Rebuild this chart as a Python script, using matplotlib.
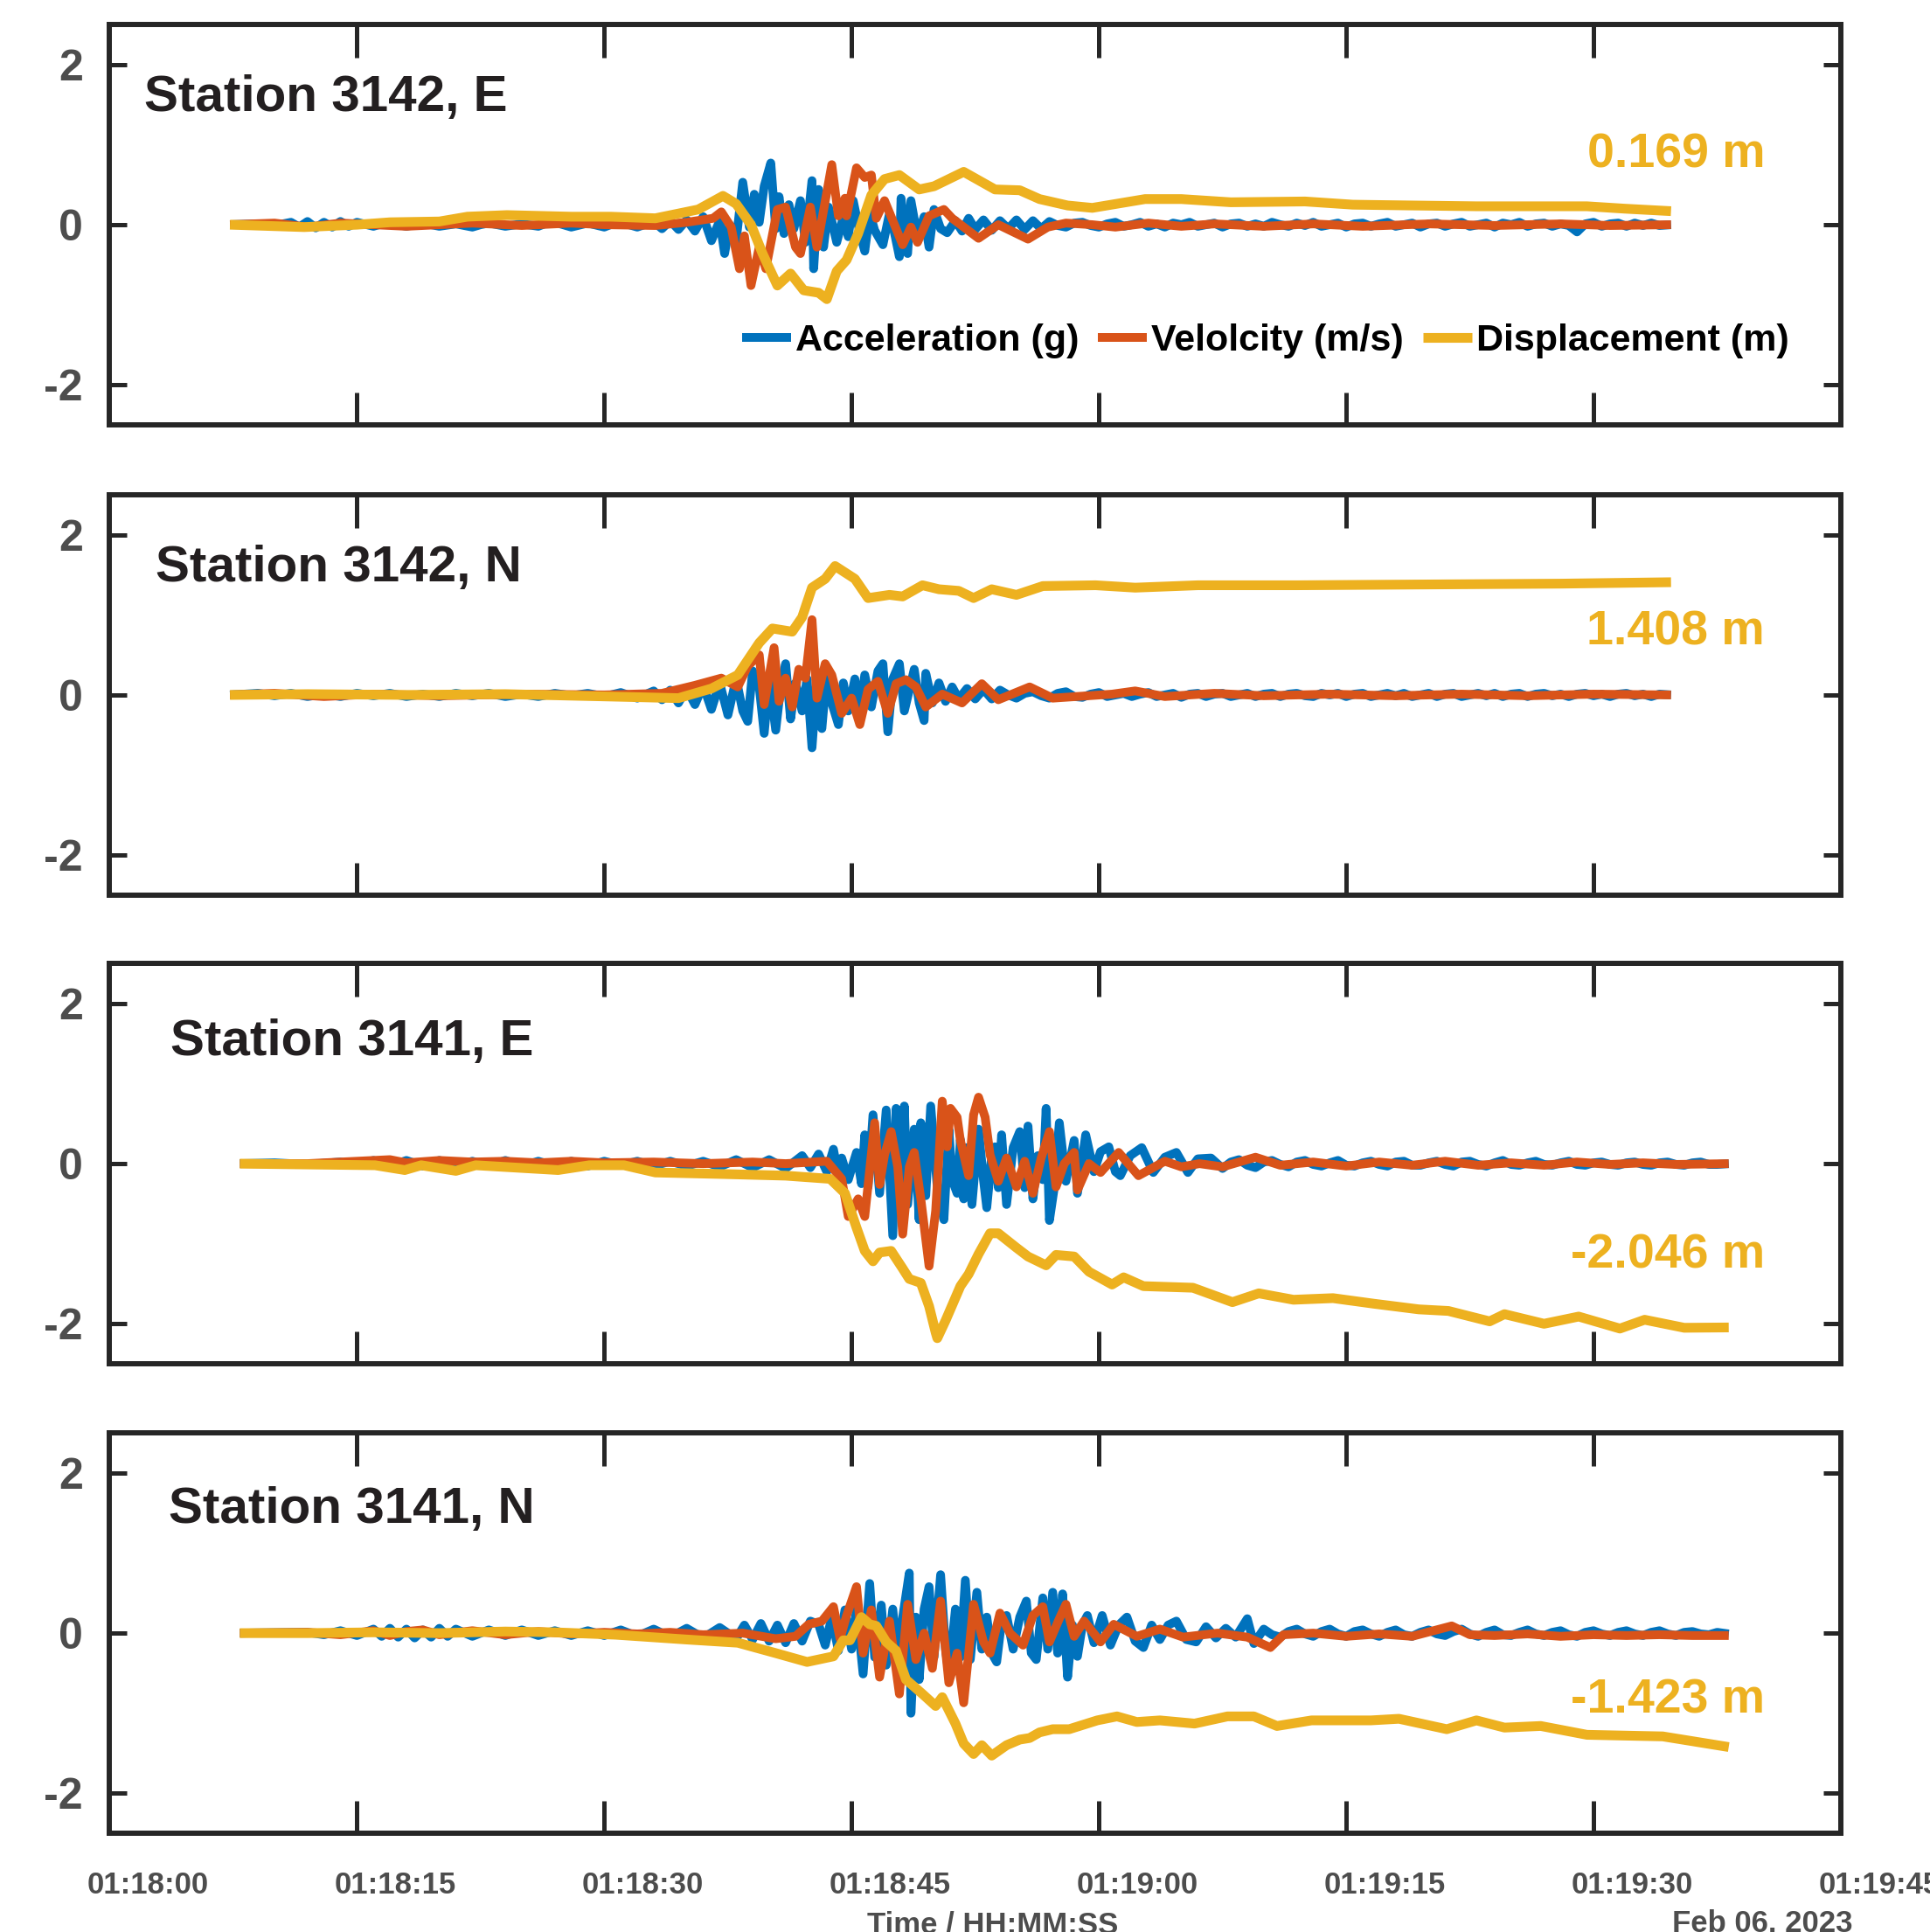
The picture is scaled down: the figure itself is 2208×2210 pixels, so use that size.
import numpy as np
import pandas as pd
import matplotlib
matplotlib.use('Agg')
import matplotlib.pyplot as plt
import matplotlib.dates as mdates
import matplotlib.transforms as mtransforms

plt.rcParams['font.family'] = ['Liberation Sans', 'DejaVu Sans']
plt.rcParams['font.weight'] = 'bold'

# (seconds after 01:18:00, value)
acc_3142e = [(7.3,0),(9,0.01),(10,-0.01),(11,0.03),(11.5,-0.03),(12,0.04),(12.5,-0.04),(13,0.03),(13.5,-0.03),(14,0.04),
             (14.5,-0.02),(15,0.03),(16,-0.02),(16.5,0.01),(17,0.02),(18,-0.02),(18.5,0.0),(19,0.02),(20,-0.02),(21,0.01),
             (22,-0.03),(22.5,0.0),(23,0.02),(24,-0.02),(25,0.01),(26,-0.02),(26.5,0.02),(27,0.03),(28,-0.03),(29,0.02),
             (30,-0.03),(30.5,0.01),(31,0.03),(32,-0.03),(33,0.04),
             (33.5,-0.05),(34,0.05),(34.5,-0.06),(35,0.06),(35.5,-0.08),(36,0.1),(36.5,-0.2),(37.0,0.05),(37.3,-0.36),
             (37.6,0.0),(38.0,-0.2),(38.4,0.53),(38.8,-0.03),(39.1,0.38),(39.4,0.03),(39.7,0.48),(40.1,0.77),(40.4,-0.05),
             (40.6,0.35),(40.9,-0.11),(41.2,0.25),(41.5,-0.05),(41.9,0.3),(42.2,-0.22),(42.6,0.55),(42.7,-0.55),(43.0,0.44),
             (43.3,-0.28),(43.6,0.22),(44.1,-0.22),(44.5,0.1),(44.8,-0.15),(45.1,0.3),(45.5,-0.1),(45.8,-0.33),(46.1,0.15),
             (46.4,-0.07),(46.9,-0.25),(47.3,0.14),(47.6,-0.1),(47.9,-0.4),(48.0,0.33),(48.4,-0.36),(48.6,0.3),(49.0,-0.16),
             (49.4,0.1),(49.7,-0.28),(50.0,0.19),(50.4,-0.05),(50.8,-0.1),(51.3,0.05),(51.7,-0.08),(52.1,0.08),(52.5,-0.06),
             (53,0.06),(53.5,-0.07),(54,0.05),(54.5,-0.05),(55,0.06),(55.5,-0.06),(56,0.05),(56.5,-0.05),(57,0.04),(57.5,-0.01),
             (58,-0.03),(58.5,0.02),(59,0.03),(59.5,-0.01),(60,-0.03),(60.5,0.01),(61,0.03),(61.5,-0.02),(62,0.0),
             (62.5,0.03),(63,-0.02),(63.5,0.01),(64,-0.03),(64.5,0.02),(65,0.0),(65.5,0.03),(66,-0.02),(66.5,0.0),
             (67,0.02),(67.5,-0.03),(68,0.01),(68.5,0.02),(69,-0.02),(69.5,0.01),(70,-0.02),(70.5,0.03),(71,0.0),
             (71.5,-0.02),(72,0.02),(72.5,-0.01),(73,0.03),(73.5,-0.02),(74,0.0),(74.5,0.02),(75,-0.03),(75.5,0.01),
             (76,0.02),(76.5,-0.02),(77,0.01),(77.5,0.03),(78,-0.02),(78.5,0.0),(79,0.02),(79.5,-0.03),(80,0.01),
             (80.5,0.02),(81,-0.02),(81.5,0.01),(82,0.03),(82.5,-0.02),(83,0.0),(83.5,0.02),(84,-0.03),(84.5,0.02),
             (85,0.0),(85.5,0.03),(86,-0.02),(86.5,0.01),(87,0.02),(87.5,-0.02),(88,0.01),(88.5,-0.01),(89,-0.09),
             (89.5,0.01),(90,0.03),(90.5,-0.02),(91,0.01),(91.5,0.02),(92,-0.02),(92.5,0.02),(93,-0.01),(93.5,0.02),
             (94,-0.01),(94.7,0)]
vel_3142e = [(7.3,0),(10,0.02),(12,-0.03),(14,0.02),(16,0.0),(18,-0.02),(20,0.0),(22,0.02),(25,-0.01),(28,0.02),
             (30,0.0),(33.1,-0.01),(35,0.03),(36.6,0.08),(37.1,0.16),(37.7,-0.03),(38.2,-0.55),(38.5,-0.14),(38.9,-0.76),
             (39.4,-0.28),(39.8,-0.55),(40.5,0.19),(41.0,0.22),(41.6,-0.28),(41.9,-0.36),(42.5,0.22),(42.9,-0.28),
             (43.8,0.75),(44.2,0.11),(44.6,0.33),(44.7,0.11),(45.3,0.71),(45.8,0.59),(46.2,0.62),(46.5,0.08),(47.0,0.3),
             (47.6,0.0),(48.1,-0.25),(48.6,-0.03),(49.0,-0.22),(49.7,0.11),(50.6,0.19),(51.1,0.08),(52.7,-0.17),
             (53.9,0.0),(55.7,-0.18),(56.9,-0.03),(58,0.02),(59.6,0),(61,-0.03),(63,0.02),(65,-0.02),(67,0.01),
             (70,-0.02),(73,0.01),(76,-0.02),(80,0.01),(84,-0.01),(88,0.01),(91,-0.01),(94.7,0)]
dis_3142e = [(7.3,0),(11.8,-0.03),(15,0.0),(17,0.03),(20,0.04),(21.7,0.1),(24.1,0.12),(28,0.1),(30.4,0.1),(33.1,0.08),
             (35.7,0.19),(37.2,0.36),(38.0,0.26),(38.9,0.0),(39.6,-0.36),(40.5,-0.76),(41.3,-0.61),(42.1,-0.82),
             (43.0,-0.85),(43.5,-0.93),(44.1,-0.58),(44.7,-0.44),(45.4,-0.11),(46.2,0.37),(47.0,0.57),(47.9,0.62),
             (49.1,0.44),(50.0,0.48),(51.8,0.66),(53.7,0.44),(55.2,0.43),(56.4,0.32),(58.1,0.24),(59.6,0.21),(62.8,0.32),
             (65.0,0.32),(68.0,0.28),(72.5,0.29),(75.4,0.25),(79,0.24),(82.9,0.23),(86,0.23),(89.6,0.23),(91.9,0.2),
             (94.7,0.169)]

acc_3142n = [(7.3,0),(9,0.02),(10,-0.01),(11,0.02),(12,-0.02),(13,0.01),(14,-0.02),(15,0.02),(16,-0.01),(17,0.02),
             (18,-0.02),(19,0.01),(20,-0.02),(21,0.02),(22,-0.01),(23,0.02),(24,-0.02),(25,0.01),(26,-0.02),(27,0.02),
             (28,-0.01),(29,0.02),(30,-0.02),(31,0.03),(32,-0.04),(33,0.05),(33.5,-0.06),(34,0.06),(34.5,-0.1),(35,0.08),
             (35.5,-0.12),(36,0.12),(36.5,-0.18),(37,0.15),(37.5,-0.25),(38,0.2),(38.4,-0.2),(38.7,-0.33),(39.0,0.3),
             (39.4,0.1),(39.7,-0.48),(40.0,0.2),(40.4,-0.44),(40.7,0.1),(41.0,0.39),(41.3,-0.3),(41.6,0.15),(42.0,-0.2),
             (42.3,0.2),(42.6,-0.66),(42.9,0.2),(43.2,-0.42),(43.5,0.3),(43.8,-0.1),(44.2,-0.37),(44.5,0.15),(44.8,-0.2),
             (45.2,0.2),(45.5,-0.25),(45.8,0.25),(46.2,-0.15),(46.6,0.3),(46.9,0.39),(47.2,-0.46),(47.5,0.2),(47.9,0.39),
             (48.2,-0.2),(48.8,0.32),(49.1,-0.1),(49.4,-0.32),(49.5,0.27),(49.9,-0.1),(50.3,0.15),(50.7,-0.08),(51.1,0.1),
             (51.5,-0.05),(52,0.08),(52.5,-0.05),(53,0.07),(53.5,-0.05),(54,0.06),(54.5,0.0),(55,-0.04),(55.5,0.02),
             (56,0.04),(56.5,-0.01),(57,-0.04),(57.5,0.02),(58,0.04),(58.5,-0.02),(59,-0.03),(59.5,0.01),(60,0.03),
             (60.5,-0.02),(61,0.0),(61.5,0.02),(62,-0.02),(62.5,0.01),(63,0.03),(63.5,-0.02),(64,0.0),(64.5,0.02),
             (65,-0.03),(65.5,0.01),(66,0.02),(66.5,-0.02),(67,0.01),(67.5,0.02),(68,-0.02),(68.5,0.0),(69,0.02),
             (69.5,-0.02),(70,0.01),(70.5,0.02),(71,-0.02),(71.5,0.01),(72,0.02),(72.5,-0.01),(73,-0.02),(73.5,0.02),
             (74,0.0),(74.5,0.02),(75,-0.02),(75.5,0.01),(76,0.02),(76.5,-0.02),(77,0.0),(77.5,0.02),(78,-0.01),
             (78.5,0.02),(79,-0.02),(79.5,0.0),(80,0.02),(80.5,-0.02),(81,0.01),(81.5,0.02),(82,-0.02),(82.5,0.0),
             (83,0.02),(83.5,-0.01),(84,0.02),(84.5,-0.02),(85,0.01),(85.5,0.02),(86,-0.02),(86.5,0.01),(87,0.02),
             (87.5,-0.01),(88,0.01),(88.5,-0.02),(89,0.01),(89.5,0.02),(90,-0.01),(90.5,0.01),(91,-0.02),(91.5,0.01),
             (92,0.02),(92.5,-0.01),(93,0.01),(93.5,-0.02),(94,0.01),(94.7,0)]
vel_3142n = [(7.3,0),(10,0.02),(13,-0.02),(16,0.01),(20,-0.01),(25,0.01),(30,0.0),(33.5,0.02),(35.5,0.12),(37.1,0.21),
             (38.1,0.1),(38.7,0.36),(39.4,0.5),(39.7,-0.12),(40.3,0.59),(40.6,-0.08),(41.0,0.21),(41.4,-0.15),(41.8,0.32),
             (42.2,0.21),(42.6,0.94),(42.9,-0.04),(43.4,0.39),(43.8,0.25),(44.4,-0.23),(45.0,-0.04),(45.5,-0.37),
             (46.0,0.07),(46.6,0.17),(47.2,-0.23),(47.7,0.14),(48.3,0.19),(48.9,0.1),(49.5,-0.15),(50.5,0.01),
             (51.7,-0.1),(52.9,0.14),(53.9,-0.06),(55.8,0.1),(57.2,-0.04),(60.8,0.01),(62.2,0.05),(64,-0.02),(67,0.02),
             (70,-0.01),(74,0.01),(78,-0.01),(82,0.01),(86,-0.01),(90,0.01),(94.7,0)]
dis_3142n = [(7.3,0),(12,0.01),(18,0.0),(24,0.01),(30.4,-0.02),(34.5,-0.04),(36.5,0.08),(38.1,0.25),(39.4,0.65),
             (40.2,0.83),(41.4,0.79),(42.0,0.97),(42.6,1.34),(43.4,1.45),(44.0,1.61),(45.2,1.45),(46.0,1.21),(47.3,1.25),
             (48.1,1.23),(49.3,1.37),(50.3,1.32),(51.5,1.30),(52.4,1.21),(53.5,1.32),(55.0,1.25),(56.6,1.36),(59.8,1.37),
             (62.2,1.34),(66,1.37),(72,1.37),(80,1.38),(88,1.39),(94.7,1.408)]

acc_3141e = [(7.9,0),(10,0.01),(12,-0.01),(14,0.02),(15,-0.02),(16,0.04),(17,-0.03),(18,0.04),(19,-0.03),(20,0.04),
             (21,-0.03),(22,0.03),(23,-0.03),(24,0.04),(25,-0.03),(26,0.03),(27,-0.03),(28,0.03),(29,-0.03),(30,0.03),
             (31,-0.02),(32,0.03),(33,-0.03),(34,0.03),(35,-0.03),(36,0.03),(37,-0.04),(38,0.05),(39,-0.05),(40,0.05),
             (41,-0.06),(42,0.1),(42.5,-0.05),(43,0.12),(43.5,-0.1),(43.9,0.18),(44.2,-0.15),(44.4,0.07),(44.8,-0.2),
             (45.3,0.14),(45.6,-0.25),(45.8,0.36),(46.0,-0.29),(46.3,0.61),(46.7,-0.37),(47.1,0.67),(47.5,-0.9),
             (47.7,0.69),(48.0,-0.3),(48.2,0.72),(48.4,-0.51),(48.8,0.43),(49.1,-0.7),(49.2,0.51),(49.5,-0.4),(49.8,0.72),
             (50.2,-0.3),(50.6,-0.7),(50.9,0.43),(51.1,-0.2),(51.4,-0.37),(51.6,0.3),(51.8,-0.44),(52.0,0.2),(52.3,-0.51),
             (52.7,0.43),(53.0,-0.2),(53.2,-0.55),(53.5,0.1),(53.7,0.21),(53.9,-0.3),(54.1,0.36),(54.4,-0.51),(54.8,0.2),
             (55.2,0.4),(55.5,-0.3),(55.7,0.47),(56.0,-0.44),(56.3,0.1),(56.6,-0.2),(56.8,0.69),(57.0,-0.71),(57.3,-0.29),
             (57.6,0.51),(58.0,-0.22),(58.5,0.29),(58.7,-0.37),(59.2,0.36),(59.7,-0.1),(60.1,0.15),(60.6,0.21),
             (61.0,-0.1),(61.3,-0.15),(61.9,0.1),(62.6,0.2),(63.3,-0.11),(64.0,0.08),(64.7,0.14),(65.4,-0.11),(66.0,0.06),
             (66.8,0.07),(67.5,-0.06),(68,0.02),(68.5,0.05),(69,-0.02),(69.5,-0.05),(70,0.02),(70.5,0.04),(71,-0.01),
             (71.5,-0.04),(72,0.02),(72.5,0.04),(73,-0.01),(73.5,-0.03),(74,0.01),(74.5,0.04),(75,-0.02),(75.5,-0.03),
             (76,0.01),(76.5,0.03),(77,-0.01),(77.5,-0.03),(78,0.02),(78.5,0.03),(79,-0.02),(79.5,-0.02),(80,0.01),
             (80.5,0.03),(81,-0.01),(81.5,-0.03),(82,0.02),(82.5,0.03),(83,-0.01),(83.5,-0.03),(84,0.01),(84.5,0.04),
             (85,-0.01),(85.5,-0.02),(86,0.01),(86.5,0.03),(87,-0.01),(87.5,-0.02),(88,0.01),(88.5,0.03),(89,-0.01),
             (89.5,-0.02),(90,0.01),(90.5,0.02),(91,-0.01),(91.5,-0.02),(92,0.01),(92.5,0.02),(93,-0.01),(93.5,-0.02),
             (94,0.01),(94.5,0.02),(95,-0.01),(95.5,-0.02),(96,0.01),(96.5,0.02),(97,-0.01),(97.5,-0.01),(98.2,0)]
vel_3141e = [(7.9,0),(12,0.0),(15,0.03),(17,0.05),(18,0.01),(20,0.04),(22,0.02),(24,0.03),(26,0.01),(28,0.03),
             (30,0.01),(33,0.02),(36,0.0),(39,0.02),(41.0,0),(43.5,0.03),(44.4,-0.19),(44.8,-0.66),(45.4,-0.44),
             (45.8,-0.66),(46.4,0.51),(46.7,-0.26),(47.0,0.11),(47.4,0.4),(47.8,-0.04),(48.1,-0.88),(48.5,-0.04),
             (48.8,0.14),(49.2,-0.44),(49.7,-1.28),(50.1,-0.59),(50.5,0.78),(50.8,0.21),(51.0,0.69),(51.4,0.58),
             (51.6,0.29),(52.1,-0.15),(52.4,0.61),(52.7,0.83),(53.1,0.58),(53.4,0.11),(53.9,-0.22),(54.4,0.07),
             (55.0,-0.29),(55.5,0.03),(56.0,-0.37),(56.5,0.07),(57.0,0.4),(57.4,-0.29),(57.9,0.0),(58.5,0.14),
             (58.7,-0.33),(59.4,0.0),(60.1,-0.11),(61.2,0.14),(62.4,-0.15),(64.0,0.03),(65.0,-0.04),(66.1,0.0),
             (67.5,-0.04),(69.5,0.08),(71,-0.02),(73,0.02),(75,-0.03),(77,0.02),(79,-0.02),(81,0.03),(83,-0.02),
             (85,0.01),(87,-0.02),(89,0.02),(91,-0.01),(93,0.01),(95,-0.01),(98.2,0)]
dis_3141e = [(7.9,0),(16.1,-0.02),(17.9,-0.08),(18.9,-0.02),(21.0,-0.09),(22.2,-0.02),(27.2,-0.08),(29.1,-0.02),
             (31.2,-0.02),(33.1,-0.11),(37.3,-0.13),(41.0,-0.15),(43.7,-0.19),(44.6,-0.37),(45.3,-0.8),(45.8,-1.09),
             (46.3,-1.22),(46.7,-1.11),(47.4,-1.09),(48.1,-1.31),(48.5,-1.44),(49.2,-1.49),(49.7,-1.78),(50.1,-2.11),
             (50.2,-2.18),(50.7,-1.96),(51.6,-1.53),(52.1,-1.38),(52.7,-1.13),(53.4,-0.87),(53.9,-0.87),(55.0,-1.05),
             (55.7,-1.16),(56.8,-1.27),(57.4,-1.14),(58.5,-1.16),(59.4,-1.35),(60.8,-1.51),(61.5,-1.42),(62.7,-1.53),
             (65.7,-1.55),(68.1,-1.73),(69.7,-1.62),(71.8,-1.70),(74.2,-1.68),(76.7,-1.75),(79.4,-1.82),(81.2,-1.84),
             (83.7,-1.97),(84.6,-1.88),(87.0,-2.0),(89.1,-1.91),(91.6,-2.06),(93.1,-1.95),(95.5,-2.05),(98.2,-2.046)]

acc_3141n = [(7.9,0),(12,0.01),(13,-0.02),(14,0.03),(15,-0.03),(16,0.05),(16.5,-0.04),(17,0.06),(17.5,-0.05),(18,0.05),
             (18.5,-0.06),(19,0.04),(19.5,-0.05),(20,0.06),(20.5,-0.04),(21,0.05),(22,-0.04),(23,0.04),(24,-0.03),
             (25,0.04),(26,-0.03),(27,0.03),(28,-0.03),(29,0.03),(30,-0.03),(31,0.04),(32,-0.04),(33,0.05),(34,-0.05),
             (35,0.06),(36,-0.06),(37,0.07),(38,-0.07),(38.5,0.1),(39,-0.08),(39.5,0.12),(40,-0.1),(40.5,0.1),
             (41,-0.12),(41.5,0.12),(42,-0.1),(42.5,0.15),(43.0,0.11),(43.4,-0.15),(43.8,0.2),(44.2,-0.22),(44.6,0.29),
             (45.0,-0.2),(45.3,0.3),(45.7,-0.51),(46.1,0.62),(46.4,-0.3),(46.8,0.35),(47.1,-0.4),(47.5,0.3),(47.8,-0.35),
             (48.1,0.2),(48.5,0.75),(48.6,-1.0),(48.9,0.2),(49.1,-0.58),(49.4,0.3),(49.7,0.58),(50.0,-0.3),(50.4,0.73),
             (50.7,-0.2),(50.9,-0.51),(51.3,0.3),(51.6,-0.3),(51.9,0.66),(52.2,-0.33),(52.6,0.51),(52.9,-0.2),(53.2,0.2),
             (53.5,-0.25),(53.8,-0.36),(54.1,0.15),(54.4,0.22),(54.8,-0.2),(55.2,0.2),(55.6,0.4),(55.9,-0.25),
             (56.2,-0.33),(56.6,0.44),(56.9,-0.2),(57.2,0.51),(57.5,-0.25),(57.8,0.49),(58.1,-0.55),(58.4,0.1),
             (58.7,-0.29),(59.0,0.1),(59.3,0.22),(59.7,-0.12),(60.2,0.22),(60.7,-0.15),(61.2,0.1),(61.7,0.2),(62.2,-0.1),
             (62.7,-0.18),(63.2,0.1),(63.7,-0.08),(64.2,0.1),(64.7,0.15),(65.3,-0.08),(65.9,-0.11),(66.5,0.08),
             (67.1,-0.06),(67.7,0.06),(68.3,-0.05),(69.0,0.18),(69.4,-0.13),(70,0.05),(70.5,-0.02),(71,-0.05),(71.5,0.02),
             (72,0.05),(72.5,-0.01),(73,-0.04),(73.5,0.02),(74,0.05),(74.5,-0.01),(75,-0.04),(75.5,0.02),(76,0.04),
             (76.5,-0.01),(77,-0.04),(77.5,0.01),(78,0.04),(78.5,-0.02),(79,-0.04),(79.5,0.01),(80,0.04),(80.5,-0.01),
             (81,-0.03),(81.5,0.02),(82,0.05),(82.5,-0.01),(83,-0.04),(83.5,0.01),(84,0.04),(84.5,-0.02),(85,-0.03),
             (85.5,0.01),(86,0.04),(86.5,-0.01),(87,-0.03),(87.5,0.01),(88,0.03),(88.5,-0.02),(89,-0.04),(89.5,0.01),
             (90,0.03),(90.5,-0.01),(91,-0.03),(91.5,0.01),(92,0.03),(92.5,-0.01),(93,-0.03),(93.5,0.01),(94,0.03),
             (94.5,-0.01),(95,-0.03),(95.5,0.01),(96,0.02),(96.5,-0.01),(97,-0.02),(97.5,0.01),(98.2,-0.01)]
vel_3141n = [(7.9,0),(12,0.01),(14,-0.02),(16,0.03),(17,-0.03),(18,0.02),(19,0.04),(20,-0.02),(22,0.03),(24,-0.02),
             (26,0.02),(28,-0.01),(30,0.01),(32,-0.01),(34,0.01),(36,-0.02),(38.4,0),(40.4,-0.07),(41.6,-0.04),
             (42.4,0.11),(43.2,0.15),(43.9,0.33),(44.3,-0.07),(44.7,0.22),(45.3,0.58),(45.7,-0.25),(46.2,0.29),
             (46.7,-0.55),(47.3,0.15),(47.9,-0.76),(48.4,0.36),(48.9,-0.33),(49.4,0.0),(49.9,-0.44),(50.4,0.4),
             (50.9,-0.62),(51.4,-0.25),(51.8,-0.87),(52.4,0.36),(53.0,-0.11),(53.4,-0.25),(54.0,0.25),(54.6,0.0),
             (55.4,-0.15),(56.0,0.22),(56.6,0.33),(57.0,-0.11),(57.6,0.18),(58.0,0.36),(58.5,-0.04),(59.1,0.15),
             (60.1,-0.11),(60.9,0.11),(62.3,-0.04),(63.7,0.05),(65.1,-0.05),(67.2,0.0),(69.0,-0.05),(70.4,-0.18),
             (71.2,-0.02),(73,0.0),(75,-0.04),(77,-0.01),(79,-0.04),(81.4,0.09),(82.5,-0.02),(84,-0.03),(86,-0.01),
             (88,-0.04),(90,-0.02),(92,-0.03),(94,-0.02),(96,-0.03),(98.2,-0.03)]
dis_3141n = [(7.9,0),(12,0.0),(16,0.01),(20,0.0),(24,0.02),(27,0.01),(30.7,-0.02),(35,-0.08),(38.1,-0.12),(40.4,-0.25),
             (42.3,-0.36),(43.9,-0.29),(44.5,-0.09),(44.9,-0.09),(45.6,0.2),(46.1,0.11),(46.5,0.09),(47.1,-0.11),
             (47.7,-0.22),(48.3,-0.58),(49.3,-0.76),(50.1,-0.91),(50.5,-0.8),(51.3,-1.13),(51.8,-1.38),(52.4,-1.51),
             (52.9,-1.4),(53.5,-1.53),(54.4,-1.4),(55.2,-1.33),(55.8,-1.31),(56.4,-1.24),(57.2,-1.2),(58.2,-1.2),
             (59.9,-1.09),(61.1,-1.04),(62.3,-1.11),(63.7,-1.09),(65.8,-1.13),(67.8,-1.04),(69.4,-1.04),(70.8,-1.16),
             (72.9,-1.09),(76.5,-1.09),(78.2,-1.07),(81.1,-1.2),(82.9,-1.09),(84.6,-1.18),(86.8,-1.16),(89.6,-1.27),
             (94.2,-1.29),(98.2,-1.423)]

titles = ['Station 3142, E', 'Station 3142, N', 'Station 3141, E', 'Station 3141, N']
final_disp = ['0.169 m', '1.408 m', '-2.046 m', '-1.423 m']
title_pos = [(2.1, 1.42), (2.8, 1.42), (3.7, 1.35), (3.6, 1.38)]
final_pos = [0.71, 0.63, -1.30, -1.00]
legend_labels = ['Acceleration (g)', 'Velolcity (m/s)', 'Displacement (m)']

stations = [(acc_3142e, vel_3142e, dis_3142e), (acc_3142n, vel_3142n, dis_3142n),
            (acc_3141e, vel_3141e, dis_3141e), (acc_3141n, vel_3141n, dis_3141n)]

t0 = pd.Timestamp('2023-02-06 01:18:00')


def to_time(sec):
    return (t0 + pd.to_timedelta(np.asarray(sec, dtype=float), unit='s')).to_numpy()


colors = ['#0072BD', '#D95319', '#EDB120']
widths = [7.2, 7.2, 8.0]
axis_col = '#262626'
tick_col = '#4d4d4d'

fig = plt.figure(figsize=(22.08, 22.10), dpi=100)
bottoms = [0.7801, 0.5367, 0.2941, 0.0511]
axes = []
for i, b in enumerate(bottoms):
    ax = fig.add_axes([0.0568, b, 0.897, 0.2072])
    axes.append(ax)
    handles = []
    for series, c, lw in zip(stations[i], colors, widths):
        arr = np.array(series)
        h, = ax.plot(to_time(arr[:, 0]), arr[:, 1], color=c, lw=lw,
                     solid_joinstyle='round', solid_capstyle='butt')
        handles.append(h)

    ax.set_xlim(to_time(0), to_time(105))
    ax.set_ylim(-2.5, 2.5)
    ax.set_yticks([-2, 0, 2])
    ax.set_yticklabels(['-2', '0', '2'])
    ax.xaxis.set_major_locator(mdates.SecondLocator(bysecond=[0, 15, 30, 45]))
    ax.xaxis.set_major_formatter(mdates.DateFormatter('%H:%M:%S'))

    for s in ax.spines.values():
        s.set_linewidth(4.3)
        s.set_color(axis_col)
    ax.tick_params(axis='x', direction='in', length=27, width=3.6, color=axis_col,
                   top=True, bottom=True, labelsize=25, labelcolor=tick_col, pad=31)
    ax.tick_params(axis='y', direction='in', length=14.5, width=3.6, color=axis_col,
                   left=True, right=True, labelsize=36, labelcolor=tick_col, pad=22)
    for lab in ax.get_yticklabels():
        lab.set_fontweight('bold')

    tx, ty = title_pos[i]
    ax.text(to_time(tx), ty, titles[i], fontsize=42, fontweight='bold',
            color='#231f20', ha='left', va='baseline')
    ax.text(to_time(100.4), final_pos[i], final_disp[i], fontsize=40, fontweight='bold',
            color=colors[2], ha='right', va='baseline')

    if i == 0:
        ax.legend(handles, legend_labels, loc='center right', bbox_to_anchor=(0.97, 0.21),
                  ncol=3, frameon=False, prop={'size': 31, 'weight': 'bold'},
                  handlelength=1.3, handletextpad=0.12, columnspacing=0.5,
                  borderpad=0, borderaxespad=0)

    if i < 3:
        ax.tick_params(axis='x', labelbottom=False)

last = axes[-1]
shift = mtransforms.ScaledTranslation(0.44, 0, fig.dpi_scale_trans)
for lab in last.get_xticklabels():
    lab.set_fontweight('bold')
    lab.set_transform(lab.get_transform() + shift)

fig.text(0.5145, 0.0109, 'Time / HH:MM:SS', fontsize=25, fontweight='bold',
         color=tick_col, ha='center', va='top')
fig.text(0.9597, 0.0122, 'Feb 06, 2023', fontsize=25, fontweight='bold',
         color=tick_col, ha='right', va='top')

fig.savefig('out.png', dpi=100)
